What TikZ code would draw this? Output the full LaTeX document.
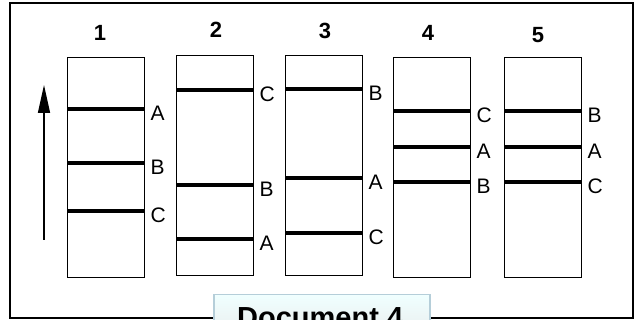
\documentclass[tikz,border=0pt]{standalone}
\usepackage{fontspec}
\setmainfont{Liberation Sans}
\usetikzlibrary{arrows.meta,positioning}

\begin{document}
\begin{tikzpicture}[x=1pt, y=-1pt,
  lane/.style={draw, line width=1.3pt, minimum width=77pt, minimum height=220pt, inner sep=0pt, anchor=north west},
  band/.style={line width=3.5pt},
  num/.style={font=\fontsize{22}{22}\selectfont\bfseries},
  lbl/.style={font=\fontsize{21}{21}\selectfont, anchor=west, inner sep=0pt},
  tab/.style={draw=cyan!35!gray!50, line width=1.5pt, top color=cyan!6, bottom color=cyan!12!gray!15, anchor=north west, minimum width=216pt, minimum height=40pt, inner sep=0pt}]
\useasboundingbox (0,0) rectangle (638,320);
\draw[line width=1.5pt] (10,3) rectangle (633,318);
% lanes
\node[lane] (l1) at (67,57) {};
\node[lane] (l2) at (176,55) {};
\node[lane] (l3) at (285,55) {};
\node[lane] (l4) at (393,57) {};
\node[lane] (l5) at (504,57) {};
% lane numbers
\node[num] (n1) at (100,33) {1};
\node[num] (n2) at (216,30) {2};
\node[num] (n3) at (325,31) {3};
\node[num] (n4) at (428,33) {4};
\node[num] (n5) at (538,35) {5};
% bands and their labels
\foreach \l/\y/\t in {l1/109/A, l1/163/B, l1/211/C,
                      l2/90/C, l2/185/B, l2/239/A,
                      l3/89/B, l3/178/A, l3/233/C,
                      l4/111/C, l4/147/A, l4/182/B,
                      l5/111/B, l5/147/A, l5/182/C} {
  \coordinate (a-\l-\t) at (\l.west |- 0,\y);
  \coordinate (b-\l-\t) at (\l.east |- 0,\y);
  \draw[band] (a-\l-\t) -- (b-\l-\t);
  \node[lbl, right=5pt of b-\l-\t, yshift=-4pt] (t-\l-\t) {\t};
}
% direction arrow
\coordinate (up0) at (44,240);
\coordinate (up1) at (44,85);
\draw[line width=1.5pt, -{Triangle[length=28pt, width=12pt]}] (up0) -- (up1);
% tab
\node[tab] (doc) at (213,294) {};
\node[font=\fontsize{29}{29}\selectfont\bfseries, anchor=north west, inner sep=0pt] (doct) at (237,307) {Document 4};
\end{tikzpicture}
\end{document}
